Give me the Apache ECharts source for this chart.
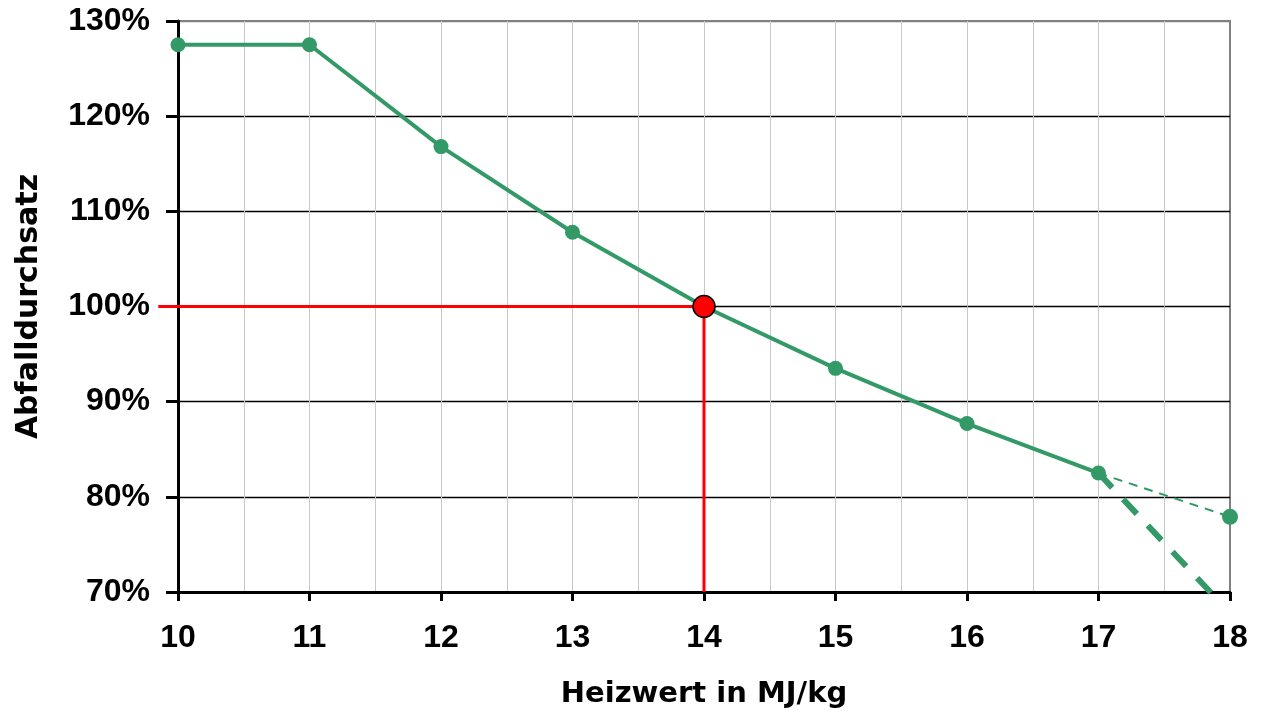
<!DOCTYPE html>
<html>
<head>
<meta charset="utf-8">
<script src="https://cdn.jsdelivr.net/npm/echarts@6/dist/echarts.min.js"></script>
<style>
  html, body { margin: 0; padding: 0; background: #fff; }
  #chart { width: 1263px; height: 715px; }
</style>
</head>
<body>
<div id="chart"></div>
<script>
// Heizwert (MJ/kg) und Abfalldurchsatz (%)
var heizwert = [10, 11, 12, 13, 14, 15, 16, 17];
var durchsatz = [127.5, 127.5, 116.8, 107.8, 100, 93.5, 87.7, 82.5];
// Verlängerungen ab 17 MJ/kg
var duennX = [17, 18];
var duennY = [82.5, 77.9];
var dickX = [17, 18];
var dickY = [82.5, 67.8];
// Referenzpunkt und Hilfslinien
var refX = 14;
var refY = 100;
var refLineX = [9.85, 14, 14];
var refLineY = [100, 100, 70];

var green = '#339966';
var font = '"Liberation Sans", Arial, sans-serif';
var titleFont = '"DejaVu Sans", sans-serif';

function pairs(xs, ys) {
  return xs.map(function (x, i) { return [x, ys[i]]; });
}

var chart = echarts.init(document.getElementById('chart'));
chart.setOption({
  animation: false,
  grid: {
    left: 178, right: 33, top: 21, bottom: 123,
    show: true, borderColor: '#808080', borderWidth: 2
  },
  xAxis: {
    type: 'value', min: 10, max: 18, interval: 1,
    name: 'Heizwert in MJ/kg', nameLocation: 'middle', nameGap: 88,
    nameTextStyle: { fontFamily: titleFont, fontWeight: 'bold', fontSize: 29, color: '#000' },
    axisLine: { show: true, onZero: false, lineStyle: { color: '#000', width: 3 } },
    axisTick: { show: true, length: 9, lineStyle: { color: '#000', width: 3 } },
    axisLabel: { margin: 30, fontFamily: font, fontWeight: 'bold', fontSize: 32, color: '#000' },
    splitLine: { show: true, lineStyle: { color: ['#c8c8c8', '#c8c8c8', '#c8c8c8', '#c8c8c8', '#c8c8c8', '#c8c8c8', '#c8c8c8', '#c8c8c8', '#808080'], width: 1 } },
    minorTick: { show: false, splitNumber: 2 },
    minorSplitLine: { show: true, lineStyle: { color: '#c8c8c8', width: 1 } }
  },
  yAxis: {
    type: 'value', min: 70, max: 130, interval: 10,
    name: 'Abfalldurchsatz', nameLocation: 'middle', nameGap: 134,
    nameTextStyle: { fontFamily: titleFont, fontWeight: 'bold', fontSize: 30, color: '#000' },
    axisLine: { show: true, onZero: false, lineStyle: { color: '#000', width: 3 } },
    axisTick: { show: true, length: 12, lineStyle: { color: '#000', width: 3 } },
    axisLabel: { margin: 28, fontFamily: font, fontWeight: 'bold', fontSize: 32, color: '#000',
      formatter: function (v) { return v + '%'; } },
    splitLine: { show: true, lineStyle: { color: ['#000', '#000', '#000', '#000', '#000', '#000', '#808080'], width: 1.3 } }
  },
  series: [
    {
      // rote Hilfslinien, reichen links über die Achse hinaus
      type: 'custom', z: 2, clip: false,
      data: [0],
      renderItem: function (params, api) {
        var pts = pairs(refLineX, refLineY).map(function (p) { return api.coord(p); });
        return {
          type: 'polyline',
          shape: { points: pts },
          style: { stroke: '#ff0000', lineWidth: 3, fill: null }
        };
      }
    },
    {
      type: 'line', data: pairs(dickX, dickY), clip: true, z: 3,
      symbol: 'none', lineStyle: { color: green, width: 6, type: [20, 16] }
    },
    {
      type: 'line', data: pairs(duennX, duennY), z: 3,
      symbol: function (v) { return v[0] === 18 ? 'circle' : 'none'; },
      symbolSize: 16, itemStyle: { color: green },
      lineStyle: { color: green, width: 2, type: [9, 7] }
    },
    {
      type: 'line', data: pairs(heizwert, durchsatz), z: 4,
      symbol: 'circle', symbolSize: 15, itemStyle: { color: green },
      lineStyle: { color: green, width: 4 }
    },
    {
      type: 'scatter', data: [[refX, refY]], z: 5,
      symbol: 'circle', symbolSize: 22,
      itemStyle: { color: '#ff0000', borderColor: '#000', borderWidth: 1.5, opacity: 1 }
    }
  ]
});
</script>
</body>
</html>
